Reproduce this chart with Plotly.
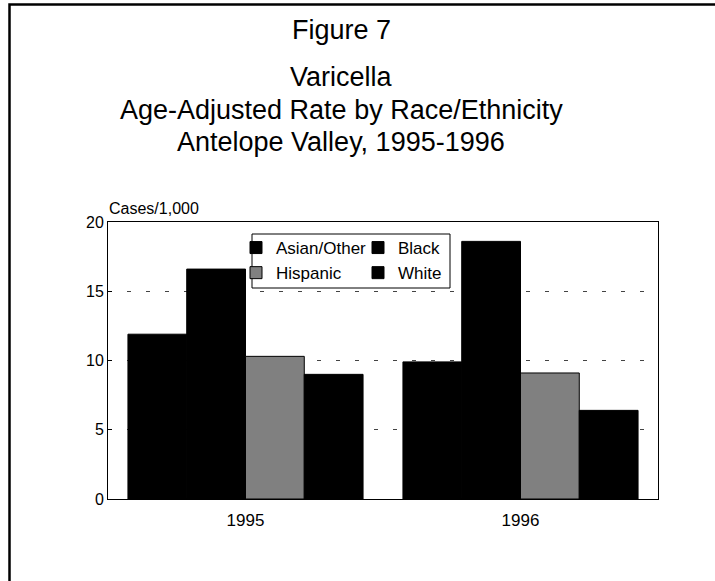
import plotly.graph_objects as go

years = ["1995", "1996"]
series_names = ["Asian/Other", "Black", "Hispanic", "White"]
asian_other = [11.9, 9.9]
black = [16.6, 18.6]
hispanic = [10.3, 9.1]
white = [9.0, 6.4]
y_ticks = [0, 5, 10, 15, 20]

W, H = 715, 581
L, R, T, B = 108, 57, 222, 82
PW, PH = W - L - R, H - T - B


def px_x(px):
    return (px - L) / PW


def px_y(py):
    return (H - B - py) / PH


FONT = "Arial, 'Liberation Sans', sans-serif"
colors = ["#000000", "#000000", "#808080", "#000000"]
legends = ["legend", "legend2", "legend", "legend2"]
values = [asian_other, black, hispanic, white]

fig = go.Figure()
for name, vals, col, lg in zip(series_names, values, colors, legends):
    fig.add_trace(go.Bar(
        x=years, y=vals, name=name, legend=lg, legendgroup=name,
        marker=dict(color=col, line=dict(color="#000000", width=1)),
    ))

TITLE_SIZE = 27
fig.update_layout(
    width=W, height=H,
    margin=dict(l=L, r=R, t=T, b=B, autoexpand=False),
    paper_bgcolor="white", plot_bgcolor="white",
    barmode="group", bargap=0.145, bargroupgap=0,
    font=dict(family=FONT, color="black", size=16),
    showlegend=True,
    legend=dict(x=px_x(236), y=px_y(230), xanchor="left", yanchor="top",
                bgcolor="rgba(0,0,0,0)", font=dict(size=17), tracegroupgap=0,
                traceorder="grouped", itemclick=False),
    legend2=dict(x=px_x(358), y=px_y(230), xanchor="left", yanchor="top",
                 bgcolor="rgba(0,0,0,0)", font=dict(size=17), tracegroupgap=0,
                 traceorder="grouped", itemclick=False),
    xaxis=dict(type="category", showline=True, linecolor="black", linewidth=1,
               mirror=True, ticks="", showgrid=False,
               tickfont=dict(size=17), ticklabelstandoff=6),
    yaxis=dict(range=[0, 20], tickvals=y_ticks, showline=True, linecolor="black",
               linewidth=1, mirror=True, ticks="inside", ticklen=4, tickcolor="black",
               showgrid=True, gridcolor="#444444", griddash="4px,15px", gridwidth=1,
               tickfont=dict(size=16), zeroline=False),
    shapes=[
        dict(type="rect", xref="paper", yref="paper",
             x0=px_x(252), x1=px_x(450), y0=px_y(288), y1=px_y(234),
             line=dict(color="black", width=1), fillcolor="white", layer="above"),
        dict(type="rect", xref="paper", yref="paper",
             x0=px_x(9.5), x1=px_x(760), y0=px_y(620), y1=px_y(4.5),
             line=dict(color="black", width=2.5), fillcolor="rgba(0,0,0,0)", layer="below"),
    ],
    annotations=[
        dict(text="Figure 7", x=px_x(341), y=px_y(30), xref="paper", yref="paper",
             showarrow=False, font=dict(size=TITLE_SIZE), xanchor="center", yanchor="middle"),
        dict(text="Varicella", x=px_x(341), y=px_y(77), xref="paper", yref="paper",
             showarrow=False, font=dict(size=TITLE_SIZE), xanchor="center", yanchor="middle"),
        dict(text="Age-Adjusted Rate by Race/Ethnicity", x=px_x(341), y=px_y(110),
             xref="paper", yref="paper", showarrow=False, font=dict(size=TITLE_SIZE),
             xanchor="center", yanchor="middle"),
        dict(text="Antelope Valley, 1995-1996", x=px_x(341), y=px_y(142),
             xref="paper", yref="paper", showarrow=False, font=dict(size=TITLE_SIZE),
             xanchor="center", yanchor="middle"),
        dict(text="Cases/1,000", x=px_x(107), y=px_y(208), xref="paper", yref="paper",
             showarrow=False, font=dict(size=16), xanchor="left", yanchor="middle"),
    ],
)

fig.write_html("out.html", config={"displayModeBar": False},
               post_script="document.body.style.margin='0';")
